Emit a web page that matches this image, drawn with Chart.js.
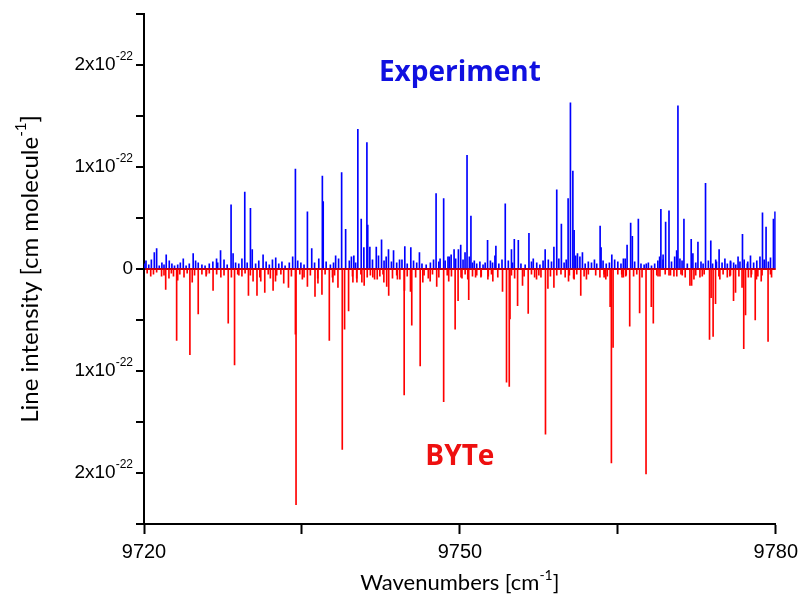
<!DOCTYPE html>
<html>
<head>
<meta charset="utf-8">
<script src="https://cdn.jsdelivr.net/npm/chart.js@4/dist/chart.umd.min.js"></script>
<style>
  html, body { margin: 0; padding: 0; background: #fff; }
  #wrap { width: 804px; height: 601px; }
</style>
</head>
<body>
<div id="wrap"><canvas id="lineChart"></canvas></div>
<script>
// intensities in units of 1e-22 cm/molecule
const expWn = [9720.19, 9720.98, 9721.20, 9722.11, 9722.40, 9723.73, 9724.67, 9725.15, 9726.54, 9726.89,
  9727.27, 9728.27, 9728.46, 9729.57, 9730.11, 9730.28, 9731.31, 9732.51, 9734.12, 9734.38,
  9735.52, 9735.93, 9736.94, 9737.02, 9738.48, 9738.77, 9739.15, 9739.93, 9740.31, 9740.63,
  9740.88, 9741.17, 9741.25, 9741.45, 9742.06, 9742.27, 9742.56, 9743.22, 9743.70, 9744.27,
  9744.77, 9745.34, 9746.16, 9747.74, 9748.12, 9748.46, 9748.87, 9749.17, 9749.45, 9749.86,
  9750.08, 9750.49, 9750.68, 9751.05, 9751.37, 9752.63, 9753.33, 9753.42, 9754.31, 9754.90,
  9755.17, 9755.55, 9756.56, 9756.97, 9758.10, 9758.93, 9759.20, 9759.64, 9760.28, 9760.50,
  9760.73, 9760.85, 9761.17, 9761.64, 9762.78, 9763.32, 9763.41, 9764.43, 9765.53, 9765.88,
  9766.22, 9766.38, 9766.95, 9767.70, 9768.97, 9769.09, 9769.30, 9769.54, 9769.86, 9770.59,
  9770.71, 9771.28, 9771.97, 9772.13, 9772.61, 9773.33, 9773.83, 9774.37, 9774.62, 9775.17,
  9775.71, 9776.42, 9776.84, 9777.34, 9777.60, 9778.74, 9779.08, 9779.78, 9779.93];
const expVal = [0.08, 0.16, 0.20, 0.14, 0.08, 0.10, 0.15, 0.06, 0.07, 0.10,
  0.18, 0.63, 0.15, 0.755, 0.595, 0.19, 0.14, 0.11, 0.12, 0.98,
  0.56, 0.20, 0.91, 0.66, 0.10, 0.945, 0.39, 0.13, 1.37, 0.49,
  0.21, 1.24, 0.43, 0.215, 0.215, 0.13, 0.285, 0.19, 0.18, 0.09,
  0.22, 0.21, 0.16, 0.74, 0.10, 0.69, 0.12, 0.14, 0.19, 0.19,
  0.235, 0.16, 1.115, 0.52, 0.08, 0.28, 0.13, 0.225, 0.64, 0.19,
  0.29, 0.28, 0.35, 0.10, 0.19, 0.215, 0.775, 0.44, 0.69, 1.63,
  0.96, 0.38, 0.15, 0.16, 0.09, 0.42, 0.21, 0.14, 0.10, 0.235,
  0.45, 0.32, 0.49, 0.05, 0.12, 0.585, 0.14, 0.46, 0.57, 0.18,
  1.60, 0.49, 0.29, 0.15, 0.265, 0.84, 0.275, 0.07, 0.19, 0.10,
  0.07, 0.12, 0.34, 0.07, 0.13, 0.55, 0.41, 0.49, 0.56];

const expNoiseWn = [9720.05, 9720.45, 9720.70, 9721.45, 9721.70, 9721.90, 9722.65, 9722.90, 9723.20, 9723.45,
  9724.00, 9724.30, 9724.90, 9725.50, 9725.80, 9726.20, 9727.00, 9727.60, 9727.90, 9728.70,
  9729.00, 9729.30, 9729.80, 9730.60, 9730.90, 9731.60, 9731.90, 9732.20, 9732.80, 9733.10,
  9733.40, 9733.80, 9734.60, 9734.90, 9735.20, 9736.20, 9736.60, 9737.30, 9737.70, 9738.00,
  9738.20, 9739.50, 9739.70, 9740.10, 9741.70, 9742.80, 9743.00, 9743.50, 9744.00, 9744.50,
  9745.00, 9745.60, 9745.90, 9746.40, 9746.80, 9747.20, 9747.50, 9748.00, 9748.60, 9749.00,
  9749.60, 9750.30, 9750.90, 9751.20, 9751.60, 9751.90, 9752.20, 9752.40, 9752.90, 9753.10,
  9753.70, 9754.00, 9754.60, 9755.00, 9755.80, 9756.20, 9756.80, 9757.30, 9757.60, 9757.90,
  9758.40, 9758.70, 9759.40, 9759.90, 9760.10, 9761.00, 9761.40, 9761.90, 9762.20, 9762.50,
  9763.00, 9763.60, 9763.90, 9764.20, 9764.70, 9765.00, 9765.30, 9765.70, 9766.60, 9767.20,
  9767.50, 9767.90, 9768.20, 9768.50, 9768.80, 9769.30, 9770.10, 9770.40, 9770.90, 9771.10,
  9771.60, 9772.40, 9772.90, 9773.10, 9773.60, 9774.00, 9774.30, 9774.90, 9775.40, 9775.70,
  9776.00, 9776.20, 9776.60, 9777.00, 9777.30, 9777.90, 9778.20, 9778.50, 9778.90, 9779.30,
  9779.50];
const expNoiseVal = [0.05, 0.04, 0.09, 0.03, 0.06, 0.04, 0.05, 0.03, 0.04, 0.06,
  0.03, 0.05, 0.08, 0.04, 0.03, 0.05, 0.06, 0.09, 0.04, 0.06,
  0.05, 0.10, 0.06, 0.05, 0.08, 0.07, 0.04, 0.09, 0.05, 0.07,
  0.03, 0.06, 0.08, 0.06, 0.04, 0.06, 0.10, 0.07, 0.04, 0.06,
  0.13, 0.08, 0.12, 0.06, 0.09, 0.08, 0.12, 0.07, 0.06, 0.09,
  0.05, 0.08, 0.06, 0.05, 0.04, 0.06, 0.09, 0.07, 0.08, 0.12,
  0.10, 0.09, 0.12, 0.06, 0.05, 0.07, 0.04, 0.06, 0.08, 0.06,
  0.05, 0.09, 0.08, 0.06, 0.05, 0.04, 0.07, 0.06, 0.04, 0.08,
  0.09, 0.07, 0.10, 0.06, 0.09, 0.13, 0.12, 0.05, 0.07, 0.06,
  0.05, 0.08, 0.05, 0.06, 0.09, 0.07, 0.05, 0.10, 0.07, 0.05,
  0.04, 0.06, 0.03, 0.05, 0.08, 0.09, 0.07, 0.12, 0.10, 0.08,
  0.05, 0.06, 0.07, 0.05, 0.08, 0.05, 0.09, 0.06, 0.05, 0.08,
  0.06, 0.04, 0.07, 0.09, 0.05, 0.06, 0.08, 0.12, 0.09, 0.07,
  0.11];

const bytWn = [9720.64, 9721.67, 9722.06, 9722.37, 9723.10, 9723.20, 9724.36, 9724.58, 9725.15, 9725.94,
  9726.56, 9727.30, 9728.00, 9728.60, 9729.01, 9729.92, 9730.36, 9730.73, 9731.09, 9731.47,
  9732.26, 9732.49, 9733.27, 9733.72, 9734.38, 9734.44, 9735.04, 9735.52, 9736.24, 9736.52,
  9736.90, 9737.60, 9737.94, 9738.42, 9738.83, 9739.05, 9739.43, 9739.84, 9740.22, 9740.69,
  9740.91, 9741.73, 9742.15, 9742.78, 9743.05, 9743.24, 9744.07, 9744.71, 9744.74, 9745.31,
  9745.43, 9746.23, 9746.48, 9747.18, 9747.80, 9748.46, 9748.94, 9749.55, 9749.83, 9750.11,
  9750.75, 9750.84, 9751.49, 9752.03, 9752.66, 9753.13, 9754.05, 9754.43, 9754.69, 9754.76,
  9755.48, 9755.95, 9756.49, 9757.28, 9757.70, 9758.13, 9758.36, 9758.93, 9760.32, 9760.85,
  9761.48, 9762.02, 9763.70, 9763.86, 9764.27, 9764.39, 9764.55, 9765.37, 9765.53, 9765.75,
  9766.13, 9767.07, 9767.68, 9768.18, 9768.37, 9768.82, 9769.86, 9770.33, 9771.12, 9771.85,
  9772.01, 9772.23, 9773.02, 9773.71, 9773.86, 9774.05, 9774.28, 9774.69, 9775.64, 9775.99,
  9776.18, 9776.80, 9776.96, 9777.13, 9777.66, 9778.05, 9778.17, 9778.62, 9779.27, 9779.50];
const bytVal = [-0.07, -0.07, -0.20, -0.09, -0.70, -0.11, -0.84, -0.13, -0.44, -0.05,
  -0.21, -0.08, -0.53, -0.94, -0.06, -0.26, -0.12, -0.26, -0.12, -0.23,
  -0.21, -0.12, -0.14, -0.18, -0.64, -2.31, -0.10, -0.17, -0.27, -0.14,
  -0.25, -0.70, -0.13, -0.18, -1.77, -0.59, -0.41, -0.13, -0.13, -0.13,
  -0.16, -0.08, -0.10, -0.13, -0.17, -0.26, -0.10, -1.235, -0.21, -0.22,
  -0.55, -0.95, -0.13, -0.12, -0.17, -1.30, -0.12, -0.59, -0.31, -0.08,
  -0.10, -0.30, -0.08, -0.07, -0.10, -0.12, -0.22, -1.11, -1.15, -0.49,
  -0.36, -0.16, -0.435, -0.10, -0.08, -1.62, -0.19, -0.18, -0.12, -0.10,
  -0.26, -0.10, -0.08, -0.10, -0.37, -1.90, -0.77, -0.05, -0.08, -0.07,
  -0.56, -0.43, -2.01, -0.37, -0.53, -0.07, -0.06, -0.07, -0.06, -0.16,
  -0.16, -0.10, -0.07, -0.69, -0.28, -0.66, -0.34, -0.10, -0.07, -0.31,
  -0.23, -0.18, -0.78, -0.45, -0.08, -0.50, -0.10, -0.12, -0.71, -0.05];

const bytNoiseWn = [9720.30, 9720.90, 9721.20, 9721.90, 9722.60, 9722.80, 9723.40, 9723.80, 9724.10, 9724.80,
  9725.50, 9725.90, 9726.20, 9726.90, 9727.60, 9728.30, 9728.90, 9729.30, 9729.60, 9730.10,
  9731.00, 9731.80, 9732.00, 9732.60, 9733.00, 9734.00, 9734.80, 9735.20, 9735.80, 9736.50,
  9737.20, 9737.90, 9738.10, 9739.80, 9740.20, 9740.60, 9741.20, 9741.50, 9741.90, 9742.40,
  9742.70, 9743.60, 9744.00, 9744.30, 9745.00, 9745.80, 9746.60, 9747.00, 9747.40, 9748.00,
  9748.80, 9749.20, 9750.20, 9750.50, 9751.20, 9751.60, 9752.00, 9752.70, 9753.00, 9753.60,
  9754.90, 9755.20, 9756.10, 9756.80, 9757.10, 9757.50, 9758.60, 9759.20, 9759.60, 9760.00,
  9760.40, 9760.80, 9761.10, 9761.80, 9762.20, 9762.90, 9763.30, 9763.70, 9764.00, 9765.00,
  9765.40, 9765.80, 9766.50, 9766.80, 9767.30, 9768.70, 9769.00, 9769.50, 9770.00, 9770.60,
  9771.00, 9771.40, 9772.40, 9772.80, 9773.20, 9774.60, 9775.00, 9775.40, 9775.70, 9776.50,
  9777.40, 9777.70, 9778.30, 9778.70, 9779.60];
const bytNoiseVal = [-0.04, -0.05, -0.03, -0.06, -0.04, -0.07, -0.05, -0.08, -0.04, -0.06,
  -0.05, -0.07, -0.04, -0.05, -0.06, -0.08, -0.05, -0.07, -0.04, -0.06,
  -0.08, -0.05, -0.09, -0.06, -0.05, -0.07, -0.05, -0.08, -0.06, -0.09,
  -0.05, -0.08, -0.06, -0.07, -0.09, -0.05, -0.08, -0.06, -0.10, -0.07,
  -0.05, -0.09, -0.06, -0.10, -0.07, -0.08, -0.06, -0.09, -0.05, -0.08,
  -0.06, -0.07, -0.09, -0.05, -0.07, -0.06, -0.08, -0.07, -0.05, -0.08,
  -0.06, -0.09, -0.07, -0.05, -0.08, -0.06, -0.07, -0.06, -0.05, -0.08,
  -0.06, -0.09, -0.05, -0.07, -0.05, -0.06, -0.08, -0.05, -0.07, -0.05,
  -0.08, -0.06, -0.07, -0.05, -0.08, -0.06, -0.07, -0.05, -0.06, -0.07,
  -0.05, -0.08, -0.06, -0.08, -0.05, -0.07, -0.05, -0.08, -0.06, -0.07,
  -0.08, -0.05, -0.07, -0.06, -0.08];

const xTickLabels = [9720, 9750, 9780];
const yTickLabels = [2, 1, 0, -1, -2];

function sticks(wn, val) {
    return wn.map((w, i) => ({ x: w, y: val[i] }));
}

const labelPlugin = {
    id: 'labelPlugin',
    afterDraw(chart) {
        const ctx = chart.ctx;
        const area = chart.chartArea;
        const xs = chart.scales.x;
        const ys = chart.scales.y;
        ctx.save();
        ctx.fillStyle = '#000';
        ctx.textBaseline = 'middle';
        ctx.textAlign = 'right';

        // y tick labels, a x10^-22
        const right = area.left - 11;
        yTickLabels.forEach(v => {
            const py = ys.getPixelForValue(v);
            if (v === 0) {
                ctx.font = '19px "Liberation Sans"';
                ctx.fillText('0', right, py);
                return;
            }
            ctx.font = '12px "Liberation Sans"';
            const supW = ctx.measureText('-22').width;
            ctx.fillText('-22', right, py - 8);
            ctx.font = '19px "Liberation Sans"';
            ctx.fillText(Math.abs(v) + 'x10', right - supW, py);
        });

        // axis titles with superscript
        function drawSup(parts, cx, cy) {
            let total = 0;
            parts.forEach(p => { ctx.font = p.font; total += ctx.measureText(p.t).width; });
            let px = cx - total / 2;
            ctx.textAlign = 'left';
            parts.forEach(p => {
                ctx.font = p.font;
                ctx.fillText(p.t, px, cy + p.dy);
                px += ctx.measureText(p.t).width;
            });
        }
        const big = '22px Lato';
        const sup = '14px Lato';
        drawSup([{ t: 'Wavenumbers [cm', font: big, dy: 0 }, { t: '-1', font: sup, dy: -8 }, { t: ']', font: big, dy: 0 }],
            (area.left + area.right) / 2, 583);

        ctx.save();
        ctx.translate(30, (area.top + area.bottom) / 2);
        ctx.rotate(-Math.PI / 2);
        drawSup([{ t: 'Line intensity [cm molecule', font: '24px Lato', dy: 0 }, { t: '-1', font: '15px Lato', dy: -9 }, { t: ']', font: '24px Lato', dy: 0 }], 0, 0);
        ctx.restore();

        // series names
        ctx.textAlign = 'center';
        ctx.font = 'bold 28px "Open Sans"';
        ctx.fillStyle = '#1010e0';
        ctx.fillText('Experiment', xs.getPixelForValue(9750), ys.getPixelForValue(1.92));
        ctx.fillStyle = '#ee1010';
        ctx.fillText('BYTe', xs.getPixelForValue(9750), ys.getPixelForValue(-1.84));
        ctx.restore();
    }
};

const ctx = document.getElementById('lineChart');

new Chart(ctx, {
    type: 'bar',
    data: {
        datasets: [{
            label: 'Experiment',
            data: sticks(expWn.concat(expNoiseWn), expVal.concat(expNoiseVal)),
            backgroundColor: '#0000ff',
            barThickness: 1,
            grouped: false
        }, {
            label: 'BYTe',
            data: sticks(bytWn.concat(bytNoiseWn), bytVal.concat(bytNoiseVal)),
            backgroundColor: '#ff0000',
            barThickness: 1,
            grouped: false
        }]
    },
    options: {
        responsive: true,
        maintainAspectRatio: false,
        animation: false,
        layout: { padding: { top: 14, right: 27, left: 0, bottom: 0 } },
        plugins: {
            legend: { display: false },
            tooltip: { enabled: false }
        },
        scales: {
            x: {
                type: 'linear',
                offset: false,
                min: 9720,
                max: 9780,
                afterFit(s) { s.height = 77; },
                ticks: {
                    stepSize: 15,
                    padding: 6,
                    color: '#000',
                    font: { family: 'Liberation Sans', size: 20 },
                    maxRotation: 0,
                    callback: v => xTickLabels.includes(v) ? String(v) : ''
                },
                grid: {
                    offset: false,
                    drawOnChartArea: false,
                    drawTicks: true,
                    tickLength: 10,
                    tickColor: '#000',
                    tickWidth: 2
                },
                border: { color: '#000', width: 2 }
            },
            y: {
                min: -2.5,
                max: 2.5,
                afterFit(s) { s.width = 144; },
                ticks: {
                    stepSize: 0.5,
                    display: false
                },
                grid: {
                    drawOnChartArea: true,
                    drawTicks: true,
                    tickLength: 8,
                    tickColor: '#000',
                    tickWidth: 2,
                    color: c => (c.tick && c.tick.value === 0) ? '#cc0000' : 'rgba(0,0,0,0)',
                    lineWidth: 2
                },
                border: { color: '#000', width: 2 }
            }
        }
    },
    plugins: [labelPlugin]
});
</script>
</body>
</html>
